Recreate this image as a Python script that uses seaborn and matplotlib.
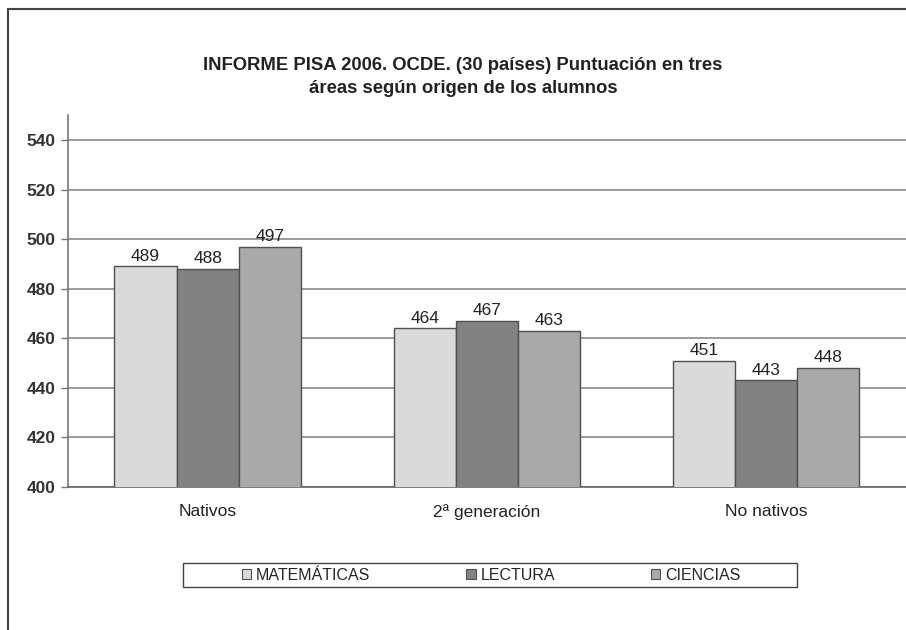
import matplotlib
matplotlib.use("Agg")
import matplotlib.pyplot as plt
import seaborn as sns
import pandas as pd
from matplotlib.patches import Rectangle

# Data
categories = ["Nativos", "2ª generación", "No nativos"]
areas = ["MATEMÁTICAS", "LECTURA", "CIENCIAS"]
matematicas = [489, 464, 451]
lectura = [488, 467, 443]
ciencias = [497, 463, 448]
area_colors = ["#dadada", "#828282", "#a9a9a9"]
y_ticks = [400, 420, 440, 460, 480, 500, 520, 540]

df = pd.DataFrame({
    "origen": categories * 3,
    "area": [areas[0]] * 3 + [areas[1]] * 3 + [areas[2]] * 3,
    "puntuacion": matematicas + lectura + ciencias,
})

sns.set_style("white")
plt.rcParams['font.family'] = ['Liberation Sans', 'DejaVu Sans']

figure = plt.figure(figsize=(9.06, 6.30), dpi=100)
axis = figure.add_axes([0.075, 0.227, 0.925, 0.59])

sns.barplot(x="origen", y="puntuacion", hue="area", data=df, order=categories, hue_order=areas,
            palette=area_colors, width=0.667, edgecolor="#505050", linewidth=1.0, ax=axis, zorder=3)

# Value labels on top of the bars
for container in axis.containers:
    axis.bar_label(container, fmt="%d", padding=2, fontsize=12.5, color="#222222")

axis.set_ylim(400, 550)
axis.set_yticks(y_ticks)
axis.set_yticklabels([str(t) for t in y_ticks], fontsize=12.5, fontweight="bold", color="#333333")
axis.set_xticks(range(len(categories)))
axis.set_xticklabels(categories, fontsize=12.5, color="#222222")
axis.set_xlabel("")
axis.set_ylabel("")
axis.grid(axis="y", color="#8a8a8a", linewidth=1.2, zorder=0)
axis.set_axisbelow(True)
axis.tick_params(axis="y", length=5, width=1, color="#777777", pad=4, left=True)
axis.tick_params(axis="x", length=0, pad=12)
for side in ["top", "right"]:
    axis.spines[side].set_visible(False)
axis.spines["left"].set_color("#777777")
axis.spines["bottom"].set_color("#666666")
axis.spines["left"].set_linewidth(1.2)
axis.spines["bottom"].set_linewidth(1.2)

# Legend below the categories, with its own wider frame
axis.get_legend().remove()
handles = [Rectangle((0, 0), 1, 1, facecolor=c, edgecolor="#505050", linewidth=0.8) for c in area_colors]
figure.legend(handles, areas, loc="center", bbox_to_anchor=(0.542, 0.087), ncol=3, frameon=False,
              fontsize=11.5, handlelength=0.6, handleheight=0.6,
              handletextpad=0.3, columnspacing=6.0, borderpad=0.2, borderaxespad=0)
figure.patches.append(Rectangle((0.202, 0.068), 0.678, 0.038, transform=figure.transFigure,
                                fill=False, edgecolor="#444444", linewidth=1.0))

figure.suptitle("INFORME PISA 2006. OCDE. (30 países) Puntuación en tres\náreas según origen de los alumnos",
                x=0.511, y=0.91, fontsize=13.3, fontweight="bold", color="#222222", linespacing=1.45)

# Outer frame of the original graphic
figure.patches.append(Rectangle((0.009, -0.1), 1.2, 1.086, transform=figure.transFigure,
                                fill=False, edgecolor="#444444", linewidth=1.5))

figure.savefig("out.png", dpi=100)
